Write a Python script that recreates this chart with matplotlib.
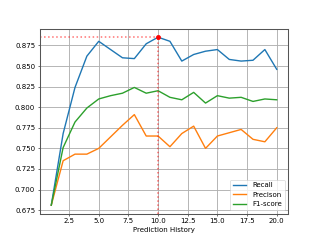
import matplotlib.pyplot as plt

# prediction history length
history = list(range(1, 21))

recall = [0.681, 0.768, 0.824, 0.862, 0.880, 0.870, 0.860, 0.859, 0.877, 0.885,
          0.880, 0.856, 0.864, 0.868, 0.870, 0.858, 0.856, 0.857, 0.870, 0.846]
precision = [0.681, 0.735, 0.743, 0.743, 0.750, 0.764, 0.778, 0.791, 0.765, 0.765,
             0.752, 0.768, 0.777, 0.750, 0.765, 0.769, 0.773, 0.761, 0.758, 0.775]
f1 = [0.681, 0.751, 0.782, 0.799, 0.810, 0.814, 0.817, 0.824, 0.817, 0.820,
      0.812, 0.809, 0.818, 0.805, 0.814, 0.811, 0.812, 0.807, 0.810, 0.809]

plt.rcParams['lines.linewidth'] = 2.0
plt.rcParams['grid.linewidth'] = 1.3
plt.rcParams['axes.linewidth'] = 1.5
plt.rcParams['axes.edgecolor'] = '#555555'

fig, ax = plt.subplots(1, 1, figsize=(6.4, 4.8), dpi=50)
ax.plot(history, recall, label='Recall')
ax.plot(history, precision, label='Precison')
ax.plot(history, f1, label='F1-score')

# mark the best recall
best = recall.index(max(recall))
bx, by = history[best], recall[best]
x0, x1 = ax.get_xlim()
y0, y1 = ax.get_ylim()
ax.plot([x0, bx], [by, by], 'r:', lw=2.2, alpha=0.55, scalex=False, scaley=False)
ax.plot([bx, bx], [y0, by], 'r:', lw=2.2, alpha=0.55, scalex=False, scaley=False)
ax.plot(bx, by, 'ro', ms=6, scalex=False, scaley=False)
ax.set_xlim(x0, x1)
ax.set_ylim(y0, y1)

ax.set_xlabel('Prediction History')
ax.grid()
ax.legend(loc='lower right')

plt.savefig('out.png', dpi=50)
plt.close()
